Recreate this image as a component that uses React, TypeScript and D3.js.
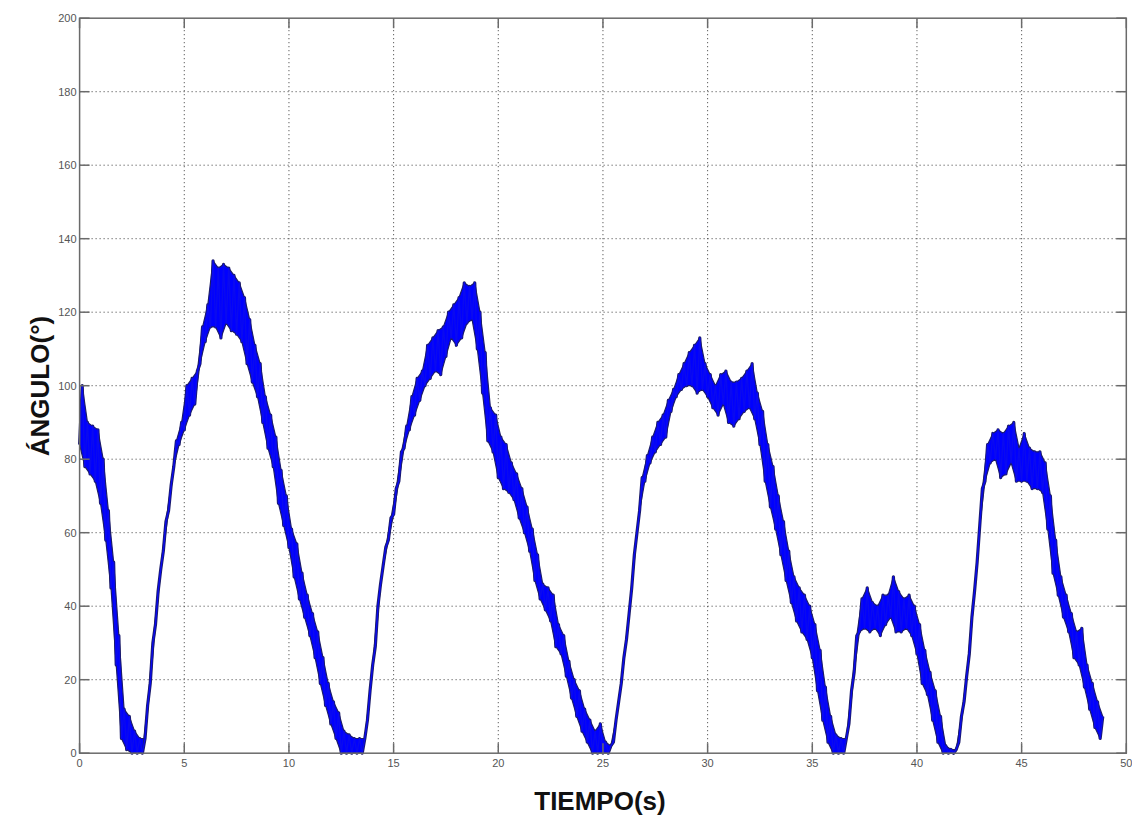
import { useEffect, useRef } from 'react';
import * as d3 from 'd3';

// axis ticks
const timeTicks = [0, 5, 10, 15, 20, 25, 30, 35, 40, 45, 50];
const angleTicks = [0, 20, 40, 60, 80, 100, 120, 140, 160, 180, 200];

// signal every 0.25 s: lower and upper edge of the noisy band
const sampleStep = 0.25;
const angleLow = [
	84, 78, 76, 74, 68, 58, 45, 24, 4, 1, 0, 0, 0, 13, 30, 44, 55, 66, 78, 84,
	88, 92, 95, 106, 112, 116, 116, 113, 117, 115, 114, 112, 106, 101, 97, 90, 83, 78, 68, 62,
	56, 48, 42, 37, 32, 26, 19, 13, 8, 4, 0, 0, 0, 0, 0, 9, 24, 40, 51, 58,
	65, 74, 83, 88, 92, 96, 100, 102, 104, 103, 108, 113, 111, 113, 117, 118, 110, 98, 85, 82,
	75, 72, 71, 69, 64, 60, 55, 47, 42, 39, 36, 29, 27, 21, 15, 10, 6, 3, 0, 0,
	0, 0, 3, 14, 26, 38, 54, 66, 74, 79, 82, 84, 86, 93, 97, 99, 100, 100, 98, 99,
	97, 94, 92, 95, 90, 89, 91, 93, 94, 91, 84, 74, 67, 61, 54, 47, 41, 36, 33, 31,
	26, 17, 9, 3, 0, 0, 0, 8, 22, 33, 34, 33, 34, 32, 35, 37, 33, 33, 34, 32,
	27, 19, 16, 9, 3, 0, 0, 0, 3, 14, 27, 44, 62, 74, 79, 80, 75, 76, 79, 74,
	74, 74, 72, 72, 71, 61, 49, 43, 37, 33, 26, 24, 18, 12, 7, 4,
];
const angleHigh = [
	100, 90, 89, 88, 80, 66, 52, 32, 12, 10, 6, 4, 4, 19, 35, 50, 63, 73, 85, 90,
	100, 102, 104, 116, 122, 134, 132, 133, 132, 130, 128, 124, 118, 111, 106, 97, 92, 86, 77, 70,
	61, 57, 49, 43, 38, 33, 26, 19, 14, 11, 6, 5, 4, 4, 4, 17, 29, 46, 56, 64,
	72, 82, 89, 97, 102, 104, 111, 113, 115, 116, 120, 122, 124, 128, 127, 128, 120, 109, 94, 92,
	86, 84, 79, 76, 72, 67, 61, 54, 46, 45, 43, 35, 32, 25, 20, 17, 12, 9, 6, 8,
	3, 2, 9, 19, 31, 45, 60, 75, 81, 86, 90, 92, 96, 99, 103, 106, 109, 111, 113, 106,
	103, 100, 103, 104, 101, 101, 102, 104, 106, 98, 93, 84, 78, 70, 63, 55, 48, 45, 43, 40,
	35, 28, 18, 10, 5, 4, 4, 17, 32, 42, 45, 41, 40, 43, 43, 48, 44, 42, 43, 40,
	35, 28, 22, 17, 10, 2, 1, 1, 10, 21, 37, 52, 72, 84, 87, 88, 87, 89, 90, 83,
	87, 83, 82, 82, 79, 70, 58, 48, 43, 38, 33, 34, 24, 19, 14, 10,
];

const App = () => {
	const ref = useRef<SVGSVGElement>(null);

	useEffect(() => {
		const width = 1132,
			height = 818;
		const plot = { left: 79.6, right: 1126.3, top: 18.2, bottom: 753.2 };
		const tickLen = 10;

		const svg = d3.select(ref.current).attr('width', width).attr('height', height);
		svg.selectAll('*').remove();

		svg.append('rect').attr('width', width).attr('height', height).attr('fill', '#fff');

		const x = d3.scaleLinear().domain([0, 50]).range([plot.left, plot.right]);
		const y = d3.scaleLinear().domain([0, 200]).range([plot.bottom, plot.top]);

		// dotted grid
		const grid = svg
			.append('g')
			.attr('stroke', '#3a3a3a')
			.attr('stroke-width', 1)
			.attr('stroke-dasharray', '1,3');
		grid
			.selectAll('line.gx')
			.data(timeTicks.slice(1, -1))
			.join('line')
			.attr('x1', (d) => x(d))
			.attr('x2', (d) => x(d))
			.attr('y1', plot.top)
			.attr('y2', plot.bottom);
		grid
			.selectAll('line.gy')
			.data(angleTicks.slice(1, -1))
			.join('line')
			.attr('class', 'gy')
			.attr('x1', plot.left)
			.attr('x2', plot.right)
			.attr('y1', (d) => y(d))
			.attr('y2', (d) => y(d));

		// signal: the noisy band between the lower and upper readings
		const idx = d3.range(angleLow.length);
		const band = d3
			.area<number>()
			.x0((i) => x(i * sampleStep))
			.x1((i) => x(i * sampleStep + sampleStep / 2))
			.y0((i) => y(angleLow[i]))
			.y1((i) => y(angleHigh[i]));

		// zig-zag trace through the same readings
		const points: [number, number][] = [];
		idx.forEach((i) => {
			points.push([i * sampleStep, angleLow[i]]);
			points.push([i * sampleStep + sampleStep / 2, angleHigh[i]]);
		});
		const line = d3
			.line<[number, number]>()
			.x((d) => x(d[0]))
			.y((d) => y(d[1]));

		svg
			.append('path')
			.datum(points)
			.attr('d', line)
			.attr('fill', 'none')
			.attr('stroke', '#1c1c6a')
			.attr('stroke-width', 3.2)
			.attr('stroke-linejoin', 'round');
		svg
			.append('path')
			.datum(idx)
			.attr('d', band)
			.attr('fill', '#0000ff')
			.attr('stroke', '#1c1c6a')
			.attr('stroke-width', 1.2)
			.attr('stroke-linejoin', 'round');
		svg
			.append('path')
			.datum(points)
			.attr('d', line)
			.attr('fill', 'none')
			.attr('stroke', '#0a0af0')
			.attr('stroke-width', 1.4)
			.attr('stroke-linejoin', 'round');

		// frame and inward ticks on all four sides
		const axes = svg.append('g').attr('stroke', '#6a6a6a').attr('stroke-width', 1.5);
		axes
			.append('rect')
			.attr('x', plot.left)
			.attr('y', plot.top)
			.attr('width', plot.right - plot.left)
			.attr('height', plot.bottom - plot.top)
			.attr('fill', 'none');
		timeTicks.forEach((t) => {
			axes.append('line').attr('x1', x(t)).attr('x2', x(t)).attr('y1', plot.bottom).attr('y2', plot.bottom - tickLen);
			axes.append('line').attr('x1', x(t)).attr('x2', x(t)).attr('y1', plot.top).attr('y2', plot.top + tickLen);
		});
		angleTicks.forEach((a) => {
			axes.append('line').attr('x1', plot.left).attr('x2', plot.left + tickLen).attr('y1', y(a)).attr('y2', y(a));
			axes.append('line').attr('x1', plot.right).attr('x2', plot.right - tickLen).attr('y1', y(a)).attr('y2', y(a));
		});

		// tick labels
		const labelFont = "'Liberation Sans', Arial, sans-serif";
		svg
			.append('g')
			.selectAll('text')
			.data(timeTicks)
			.join('text')
			.attr('x', (d) => x(d))
			.attr('y', plot.bottom + 14)
			.attr('text-anchor', 'middle')
			.attr('font-family', labelFont)
			.attr('font-size', 11)
			.attr('fill', '#555')
			.text((d) => d);
		svg
			.append('g')
			.selectAll('text')
			.data(angleTicks)
			.join('text')
			.attr('x', plot.left - 3)
			.attr('y', (d) => y(d) + 4)
			.attr('text-anchor', 'end')
			.attr('font-family', labelFont)
			.attr('font-size', 11)
			.attr('fill', '#555')
			.text((d) => d);

		// axis titles
		svg
			.append('text')
			.attr('x', 600)
			.attr('y', 810)
			.attr('text-anchor', 'middle')
			.attr('font-family', labelFont)
			.attr('font-weight', 'bold')
			.attr('font-size', 26)
			.attr('fill', '#111')
			.text('TIEMPO(s)');
		svg
			.append('text')
			.attr('transform', `translate(49, 386) rotate(-90)`)
			.attr('text-anchor', 'middle')
			.attr('font-family', labelFont)
			.attr('font-weight', 'bold')
			.attr('font-size', 26)
			.attr('fill', '#111')
			.text('ÁNGULO(°)');
	}, []);

	return <svg ref={ref} style={{ position: 'absolute', left: 0, top: 0 }} width={1132} height={818}></svg>;
};

export default App;
